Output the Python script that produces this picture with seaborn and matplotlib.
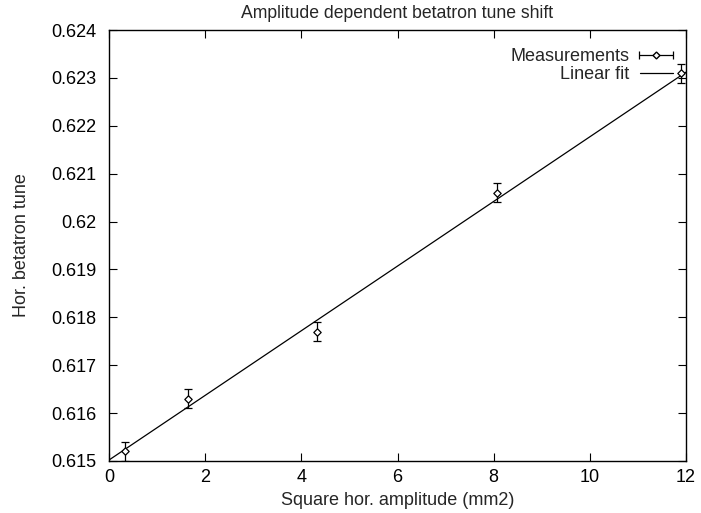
import numpy as np
import pandas as pd
import seaborn as sns
import matplotlib.pyplot as plt
from matplotlib.legend_handler import HandlerErrorbar

# Data
amp2 = [0.33, 1.65, 4.33, 8.07, 11.9]
tune = [0.6152, 0.6163, 0.6177, 0.6206, 0.6231]
tune_err = [0.0002, 0.0002, 0.0002, 0.0002, 0.0002]
fit_x = [0.0, 12.0]
fit_intercept = 0.61502
fit_slope = 0.000675
yticks = [0.615, 0.616, 0.617, 0.618, 0.619, 0.62, 0.621, 0.622, 0.623, 0.624]
ytick_labels = ['0.615', '0.616', '0.617', '0.618', '0.619', '0.62', '0.621', '0.622', '0.623', '0.624']

sns.set_style('ticks')
plt.rcParams['font.family'] = ['Liberation Sans', 'DejaVu Sans']
plt.rcParams['xtick.direction'] = 'in'
plt.rcParams['ytick.direction'] = 'in'

df = pd.DataFrame({'amp2': amp2, 'tune': tune, 'err': tune_err})
fit = pd.DataFrame({'x': fit_x, 'y': [fit_intercept + fit_slope * v for v in fit_x]})

fig = plt.figure(figsize=(7.01, 5.13), dpi=100)
ax = fig.add_axes([0.1555, 0.1014, 0.8231, 0.8401])

ax.errorbar(df['amp2'], df['tune'], yerr=df['err'], fmt='none', ecolor='black',
            elinewidth=0.9, capsize=3, capthick=0.9)
sns.scatterplot(data=df, x='amp2', y='tune', marker='D', s=14, facecolor='white',
                edgecolor='black', linewidth=0.9, ax=ax, zorder=3, legend=False)
sns.lineplot(data=fit, x='x', y='y', color='black', linewidth=0.9, ax=ax)

# legend proxies, gnuplot style (horizontal error bar sample)
h_meas = ax.errorbar([np.nan], [np.nan], xerr=[[1]], fmt='D', ms=3.5, mfc='white',
                     mec='black', color='black', elinewidth=0.9, capsize=3, capthick=0.9)
h_fit, = ax.plot([np.nan], [np.nan], color='black', linewidth=0.9)
ax.legend([h_meas, h_fit], ['Measurements', 'Linear fit'], loc='upper right',
          bbox_to_anchor=(0.9775, 0.958), frameon=False, markerfirst=False,
          fontsize=13, handlelength=1.85, borderaxespad=0, borderpad=0,
          labelspacing=0.05, handletextpad=0.55,
          handler_map={type(h_meas): HandlerErrorbar(xerr_size=0.95)})

ax.set_xlim(0, 12)
ax.set_ylim(0.615, 0.624)
ax.set_xticks([0, 2, 4, 6, 8, 10, 12])
ax.set_yticks(yticks)
ax.set_yticklabels(ytick_labels)
ax.tick_params(top=True, right=True, labelsize=13, length=6, width=0.8, colors='black')
ax.tick_params(axis='y', pad=9)
ax.tick_params(axis='x', pad=6)
for s in ax.spines.values():
    s.set_linewidth(1.0)
    s.set_color('black')

ax.set_title('Amplitude dependent betatron tune shift', fontsize=12.7, pad=9)
ax.set_xlabel('Square hor. amplitude (mm2)', fontsize=13, labelpad=4)
ax.set_ylabel('Hor. betatron tune', fontsize=13, labelpad=15)

fig.savefig('out.png', dpi=100)
plt.close()
